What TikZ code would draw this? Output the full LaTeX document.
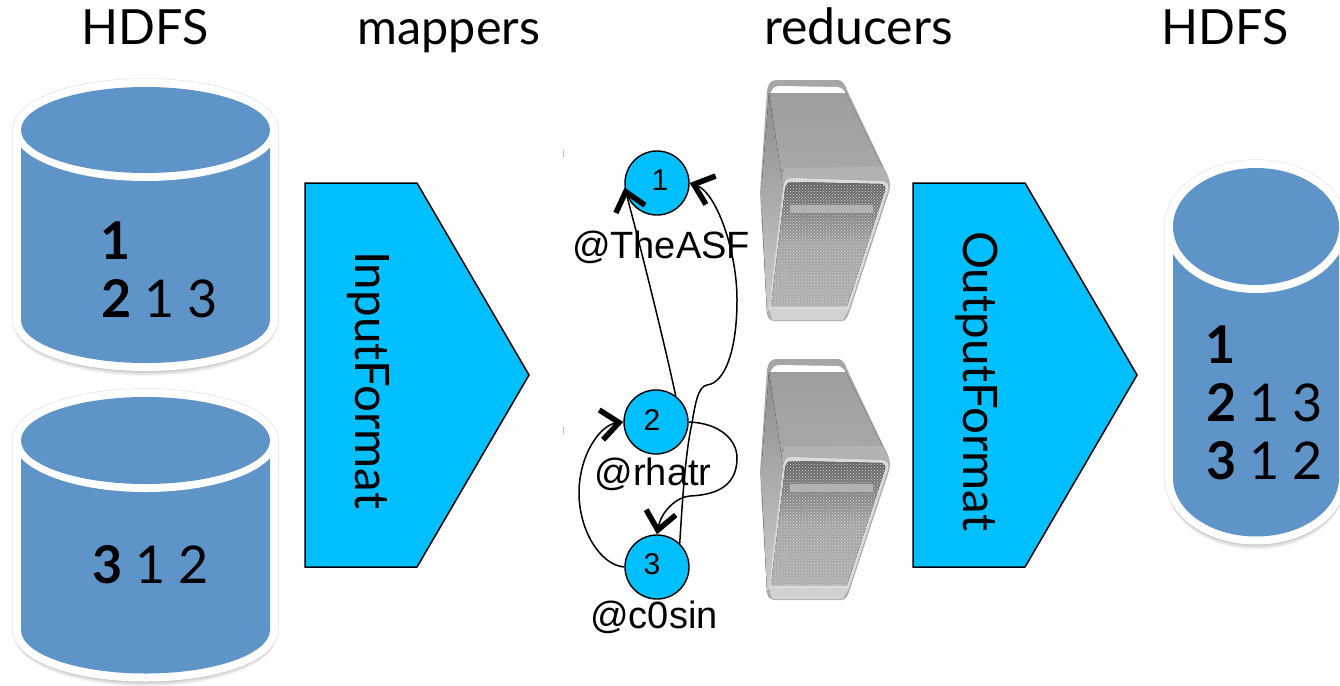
\documentclass[tikz,border=0pt]{standalone}
\usepackage{fontspec}
\setmainfont{Lato}
\newfontfamily\arialfont{Liberation Sans}
\usetikzlibrary{arrows.meta,patterns,calc}
\definecolor{drumblue}{HTML}{5F94C8}
\definecolor{cyanfill}{HTML}{00BFFF}
\tikzset{
  x=1pt,y=-1pt,
  heading/.style={anchor=base,inner sep=0pt,font=\fontsize{48.5}{48.5}\selectfont},
  datarow/.style={anchor=base west,inner sep=0pt,font=\fontsize{52}{52}\selectfont},
  formatbox/.style={draw=black,line width=1.5pt,fill=cyanfill},
  formatlabel/.style={rotate=-90,anchor=base,inner sep=0pt,font=\fontsize{47.5}{47.5}\selectfont},
  usernode/.style={circle,draw=black,line width=1.4pt,fill=cyanfill,minimum size=64pt,inner sep=0pt,font=\arialfont\fontsize{30}{30}\selectfont},
  userlabel/.style={anchor=base,inner sep=0pt,font=\arialfont\fontsize{38}{38}\selectfont},
  follow/.style={draw=black,line width=1.5pt,-{Straight Barb[length=18pt,width=30pt,line width=5.5pt]}},
}
\newcommand{\drumshape}[5]{%
  ({#1-(#3)},#2) -- ({#1-(#3)},#5) arc[start angle=180,end angle=0,x radius=#3,y radius=#4] -- ({#1+(#3)},#2) arc[start angle=0,end angle=-180,x radius=#3,y radius=#4] -- cycle}
\newcommand{\drawdrum}[5]{%
  \foreach \s in {1,2,...,7}{\fill[black,opacity=.04,yshift=-\s pt] \drumshape{#1}{#2}{#3+6}{#4+6}{#5};}
  \draw[black!25,line width=17.5pt,opacity=.4] \drumshape{#1}{#2}{#3}{#4}{#5};
  \draw[white,line width=16pt] \drumshape{#1}{#2}{#3}{#4}{#5};
  \fill[drumblue] \drumshape{#1}{#2}{#3}{#4}{#5};
  \fill[white] (#1,#2) ellipse[x radius=#3+8,y radius=#4+8];
  \fill[drumblue] (#1,#2) ellipse[x radius=#3,y radius=#4];
}
\newcommand{\rowtext}[3]{\makebox[43pt][c]{\bfseries #1}\makebox[43pt][c]{#2}\makebox[43pt][c]{#3}}
\newcommand{\nudged}[3]{\raisebox{#2}{\makebox[0pt]{\hspace*{#1}#3}}}
\tikzset{
  macserver/.pic={
    % soft outline
    \fill[black!32] (767,90) -- (760,193) -- (767,314) .. controls (768,320) and (772,321) .. (775,321)
      -- (842,321) .. controls (846,321) and (848,316) .. (850,310) -- (889,192) .. controls (891,186) and (890,178) .. (884,168)
      -- (847,90) -- cycle;
    % top handle
    \fill[black!35] (767,94) .. controls (767,84) and (771,80) .. (776,80) -- (838,80) .. controls (843,80) and (846,86) .. (848,94) -- cycle;
    \fill[white] (771,92) .. controls (773,88) and (775,86) .. (780,86) -- (838,87) .. controls (842,88) and (844,90) .. (846,94) -- (770,94) -- cycle;
    % top surface
    \fill[top color=black!38,bottom color=black!34] (769,93) -- (846,93) -- (883,168) -- (784,170) -- (777,178) -- cycle;
    % side
    \fill[top color=black!45,bottom color=black!20] (769,93) -- (783,187) -- (770,310) -- (767,313) -- (761,193) -- cycle;
    % front shoulder
    \fill[black!30] (785,168) -- (883,167) -- (890,185) -- (884,180) -- (790,177) -- (782,184) -- cycle;
    % front face
    \fill[black!14] (783,188) .. controls (784,181) and (787,178) .. (792,178) -- (881,181) .. controls (887,181) and (890,185) .. (888,190) -- (849,309) -- (769,309) -- cycle;
    \fill[top color=black!62,bottom color=black!32,middle color=black!36] (785,190) .. controls (786,184) and (788,182) .. (792,182) -- (880,184) .. controls (884,184) and (886,187) .. (885,190) -- (847,306) -- (771,306) -- cycle;
    \fill[pattern=crosshatch dots,pattern color=black!15] (785,190) .. controls (786,184) and (788,182) .. (792,182) -- (880,184) .. controls (884,184) and (886,187) .. (885,190) -- (847,306) -- (771,306) -- cycle;
    % bottom lip
    \fill[black!18] (769,309) -- (849,309) -- (843,320) -- (772,320) -- cycle;
    % drive slot and port
    \fill[black!30] (790,205) -- (873,205) -- (873,213) -- (790,213) -- cycle;
    \fill[black!30] (783,270) -- (788,270) -- (787,292) -- (780,292) -- cycle;
  }
}
\begin{document}
\begin{tikzpicture}
\path[use as bounding box] (0,0) rectangle (1340,685);
\fill[white] (0,0) rectangle (1340,685);

% headings
\node[heading] (h1) at (145,45) {HDFS};
\node[heading] (h2) at (449,45) {mappers};
\node[heading,font=\fontsize{50}{50}\selectfont] (h3) at (858.5,45) {reducers};
\node[heading] (h4) at (1225,45) {HDFS};

% drums
\drawdrum{145.5}{130}{124.5}{43}{320}
\drawdrum{145.5}{440.5}{124.5}{43.5}{630}
\drawdrum{1256}{226.5}{83}{58.5}{478}

% drum contents
\node[datarow,anchor=base] (d1a) at (116,259) {\bfseries 1};
\node[datarow] (d1b) at (94.5,317) {\rowtext{2}{1}{3}};
\node[datarow] (d2a) at (85.5,583) {\rowtext{3}{1}{2}};
\node[datarow,anchor=base] (d3a) at (1221,363) {\bfseries 1};
\node[datarow] (d3b) at (1199.5,421) {\rowtext{2}{1}{3}};
\node[datarow] (d3c) at (1199.5,479) {\rowtext{3}{1}{2}};

% format pentagons
\draw[formatbox] (305,183) -- (417,183) -- (529,375) -- (417,567) -- (305,567) -- cycle;
\node[formatlabel] (inf) at (355,380) {InputFormat};
\draw[formatbox] (913,183) -- (1025,183) -- (1137,375) -- (1025,567) -- (913,567) -- cycle;
\node[formatlabel] (outf) at (963,381) {OutputFormat};

% servers
\pic at (0,0) {macserver};
\pic at (0,279) {macserver};

% stray marks
\draw[black!30,line width=.8pt] (563,150) -- (563,157);
\draw[black!30,line width=.8pt] (563,427) -- (563,434);

% user graph
\node[usernode] (c1) at (657,183) {\nudged{6pt}{5pt}{1}};
\node[usernode] (c2) at (656,422) {\nudged{-8pt}{4pt}{2}};
\node[usernode] (c3) at (657,567) {\nudged{-10pt}{5pt}{3}};
\node[userlabel] (l1) at (661,258) {@TheASF};
\node[userlabel] (l2) at (653,485) {@rhatr};
\node[userlabel] (l3) at (654,628) {@c0sin};

\draw[follow] (c2.53) .. controls (665,345) and (640,245) .. (c1.188);
\draw[follow] (c3.46) .. controls (683,490) and (686,450) .. (692,423)
   .. controls (695,405) and (698,386) .. (707,385)
   .. controls (725,383) and (737,350) .. (737,300)
   .. controls (737,250) and (716,192) .. (c1.0);
\draw[follow] (c2.0) .. controls (720,423) and (737,440) .. (737,458)
   .. controls (737,490) and (710,495) .. (690,496)
   .. controls (676,497) and (661,512) .. (c3.90);
\draw[follow] (c3.180) .. controls (600,565) and (579,530) .. (579,493)
   .. controls (579,455) and (600,425) .. (c2.180);
\end{tikzpicture}
\end{document}
